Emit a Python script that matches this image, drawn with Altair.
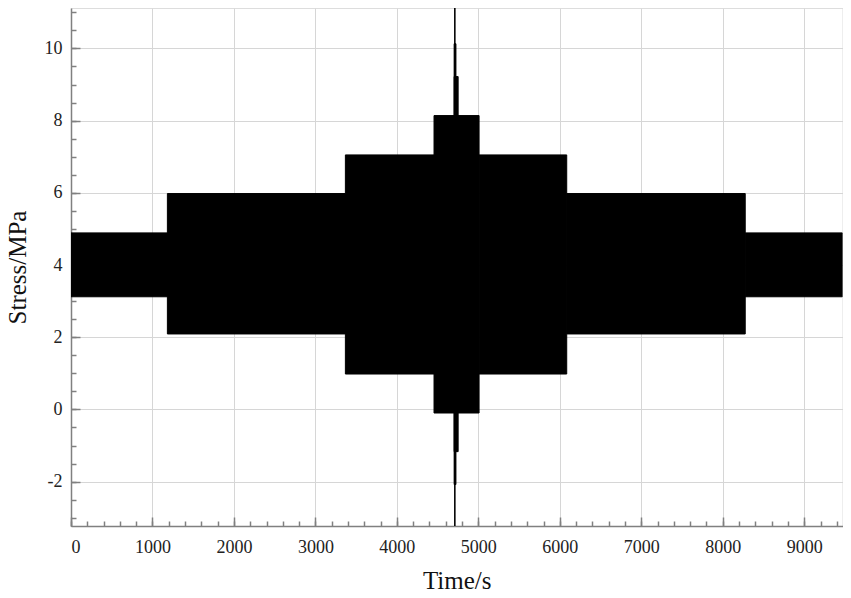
import altair as alt
import pandas as pd

# Envelope of the stress signal: each block spans [start, end] in time with lower/upper stress
starts = [0, 1183, 3368, 4456, 5009, 6085, 8276, 4703, 4703, 4709]
ends = [1183, 3368, 4456, 5009, 6085, 8276, 9470, 4752, 4725, 4714]
lower = [3.12, 2.09, 0.98, -0.10, 0.98, 2.09, 3.12, -1.17, -2.08, -3.40]
upper = [4.89, 5.98, 7.05, 8.14, 7.05, 5.98, 4.89, 9.22, 10.13, 11.30]

x_major = [0, 1000, 2000, 3000, 4000, 5000, 6000, 7000, 8000, 9000]
y_major = [-2, 0, 2, 4, 6, 8, 10]
x_minor = list(range(0, 9401, 200))
y_minor = [v / 2 for v in range(-6, 23)]

df = pd.DataFrame({"start": starts, "end": ends, "lower": lower, "upper": upper})

FONT = "Liberation Serif"
AX = "#808080"
xs = alt.Scale(domain=[0, 9470], nice=False, zero=False)
ys = alt.Scale(domain=[-3.23, 11.12], nice=False, zero=False)

base = alt.Chart(df)

main = base.mark_rect(color="black", clip=True, stroke="black", strokeWidth=1).encode(
    x=alt.X("start:Q", scale=xs, axis=alt.Axis(
        orient="bottom", values=x_major, grid=True, gridColor="#d6d6d6", gridWidth=1,
        ticks=False, domain=True, domainColor=AX, domainWidth=1.5,
        labelExpr="'' + datum.value",
        labelFont=FONT, labelFontSize=18, labelColor="#222", labelPadding=12,
        title="Time/s", titleFont=FONT, titleFontSize=25, titleFontWeight="normal",
        titleColor="#111", titlePadding=12)),
    x2="end:Q",
    y=alt.Y("lower:Q", scale=ys, axis=alt.Axis(
        orient="left", values=y_major, grid=True, gridColor="#d6d6d6", gridWidth=1,
        ticks=False, domain=True, domainColor=AX, domainWidth=1.5,
        labelExpr="'' + datum.value",
        labelFont=FONT, labelFontSize=18, labelColor="#222", labelPadding=9,
        title="Stress/MPa", titleFont=FONT, titleFontSize=25, titleFontWeight="normal",
        titleColor="#111", titlePadding=14)),
    y2="upper:Q",
)


def tick_layer(xv, yv, size):
    return base.mark_rect(opacity=0).encode(
        x=alt.X("start:Q", scale=xs, axis=alt.Axis(
            orient="bottom", values=xv, offset=-size, tickSize=size, tickColor=AX,
            tickWidth=1.5, labels=False, domain=False, grid=False, title=None)),
        x2="end:Q",
        y=alt.Y("lower:Q", scale=ys, axis=alt.Axis(
            orient="left", values=yv, offset=-size, tickSize=size, tickColor=AX,
            tickWidth=1.5, labels=False, domain=False, grid=False, title=None)),
        y2="upper:Q",
    )


chart = alt.layer(main, tick_layer(x_major, y_major, 9), tick_layer(x_minor, y_minor, 5)).resolve_axis(
    x="independent", y="independent"
).properties(
    width=771.5, height=518,
    autosize=alt.AutoSizeParams(type="none"),
    padding={"left": 63, "top": 0, "right": 0, "bottom": 64},
).configure_view(stroke=AX, strokeWidth=1.5).configure(background="white")

chart.save("out.html", embed_options={"renderer": "svg", "actions": False})
